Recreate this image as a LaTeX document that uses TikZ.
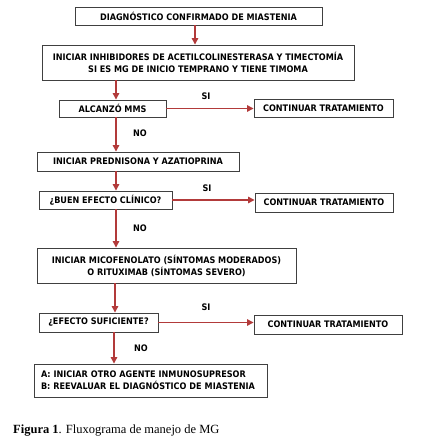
\documentclass[tikz,border=0pt]{standalone}
\usepackage{fontspec}
\setmainfont{Liberation Serif}
\newfontfamily\boxfont{DejaVu Sans Condensed}
\usetikzlibrary{arrows.meta}
\definecolor{arrred}{HTML}{B23A3A}
\definecolor{edgegray}{HTML}{404040}
\begin{document}
\begin{tikzpicture}[x=1pt,y=-1pt,
  box/.style={draw=edgegray, line width=0.9pt, fill=white, inner sep=0pt, align=center,
    font=\boxfont\bfseries\fontsize{9}{12}\selectfont},
  lbl/.style={inner sep=0pt, font=\boxfont\bfseries\fontsize{9}{12}\selectfont},
  arr/.style={draw=arrred, line width=1.3pt, -{Triangle[length=6.5pt,width=6.5pt]}}]
\useasboundingbox (0,0) rectangle (444,441);
% boxes
\node[box, minimum width=247pt, minimum height=18pt] (b1) at (198.5,16) {DIAGNÓSTICO CONFIRMADO DE MIASTENIA};
\node[box, minimum width=312pt, minimum height=35pt] (b2) at (198,62.5) {INICIAR INHIBIDORES DE ACETILCOLINESTERASA Y TIMECTOMÍA\\SI ES MG DE INICIO TEMPRANO Y TIENE TIMOMA};
\node[box, minimum width=107pt, minimum height=17pt] (b3) at (112.5,108.5) {ALCANZÓ MMS};
\node[box, minimum width=139pt, minimum height=18pt] (c1) at (323.5,108) {CONTINUAR TRATAMIENTO};
\node[box, minimum width=202pt, minimum height=19pt] (b4) at (138,161.5) {INICIAR PREDNISONA Y AZATIOPRINA};
\node[box, minimum width=133pt, minimum height=18pt] (b5) at (105.5,200) {¿BUEN EFECTO CLÍNICO?};
\node[box, minimum width=138pt, minimum height=19pt] (c2) at (324,202.5) {CONTINUAR TRATAMIENTO};
\node[box, minimum width=259pt, minimum height=35pt] (b6) at (166.5,265.5) {INICIAR MICOFENOLATO (SÍNTOMAS MODERADOS)\\O RITUXIMAB (SÍNTOMAS SEVERO)};
\node[box, minimum width=119pt, minimum height=19pt] (b7) at (98.5,322.5) {¿EFECTO SUFICIENTE?};
\node[box, minimum width=148pt, minimum height=19pt] (c3) at (328,324.5) {CONTINUAR TRATAMIENTO};
\node[box, minimum width=233pt, minimum height=33pt, inner xsep=7pt, text width=219pt, align=left] (b8) at (150.5,380.5) {A: INICIAR OTRO AGENTE INMUNOSUPRESOR\\B: REEVALUAR EL DIAGNÓSTICO DE MIASTENIA};
% arrow columns
\coordinate (x1) at (195,0);
\coordinate (x2) at (116,0);
\coordinate (x3) at (115,0);
\coordinate (x4) at (114,0);
% vertical arrows
\draw[arr] (b1.south -| x1) -- (b2.north -| x1);
\draw[arr] (b2.south -| x2) -- (b3.north -| x2);
\draw[arr] (b3.south -| x2) -- (b4.north -| x2);
\draw[arr] (b4.south -| x2) -- (b5.north -| x2);
\draw[arr] (b5.south -| x2) -- (b6.north -| x2);
\draw[arr] (b6.south -| x3) -- (b7.north -| x3);
\draw[arr] (b7.south -| x4) -- (b8.north -| x4);
% horizontal arrows
\draw[arr] (b3.east) -- (b3.east -| c1.west);
\draw[arr] (b5.east) -- (b5.east -| c2.west);
\draw[arr] (b7.east) -- (b7.east -| c3.west);
% labels
\node[lbl] (s1) at (206,96) {SI};
\node[lbl] (s2) at (207,188) {SI};
\node[lbl] (s3) at (206,307) {SI};
\node[lbl] (n1) at (140,133) {NO};
\node[lbl] (n2) at (140,228) {NO};
\node[lbl] (n3) at (141,348) {NO};
% caption
\node[anchor=west, inner sep=0pt, font=\fontsize{12.5}{14}\selectfont] (cap) at (13,431) {\textbf{Figura 1}. Fluxograma de manejo de MG};
\end{tikzpicture}
\end{document}
